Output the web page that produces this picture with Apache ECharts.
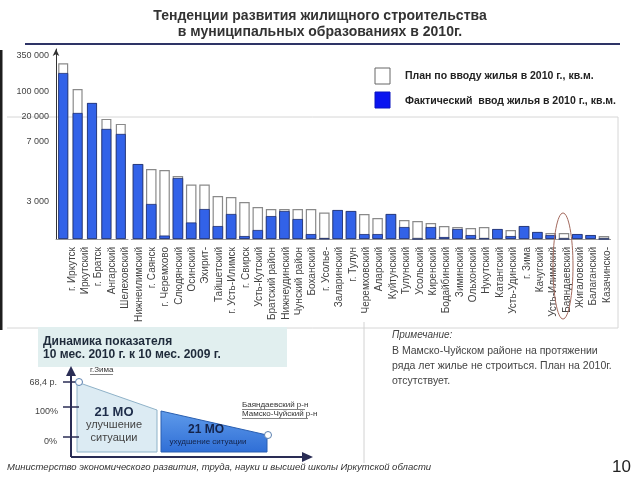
<!DOCTYPE html>
<html>
<head>
<meta charset="utf-8">
<script src="https://cdn.jsdelivr.net/npm/echarts@6/dist/echarts.min.js"></script>
<style>
html,body{margin:0;padding:0;background:#fff;}
#chart{width:640px;height:480px;}
</style>
</head>
<body>
<div id="chart"></div>
<script>
// ---- Data ----
const categories = ['г. Иркутск','Иркутский','г. Братск','Ангарский','Шелеховский','Нижнеилимский','г. Саянск','г. Черемхово','Слюдянский','Осинский','Эхирит-','Тайшетский','г. Усть-Илимск','г. Свирск','Усть-Кутский','Братский район','Нижнеудинский','Чунский район','Боханский','г. Усолье-','Заларинский','г. Тулун','Черемховский','Аларский','Куйтунский','Тулунский','Усольский','Киренский','Бодайбинский','Зиминский','Ольхонский','Нукутский','Катангский','Усть-Удинский','г. Зима','Качугский','Усть-Илимский','Баяндаевский','Жигаловский','Балаганский','Казачинско-'];
const planValues = [300000,121000,65000,19000,16400,5530,5200,5130,4730,4170,4170,3400,3330,3000,2590,2430,2430,2430,2430,2150,2350,2270,2030,1700,2030,1540,1460,1300,1050,970,890,970,810,730,1050,570,490,490,400,320,240];
const factValues = [232000,33000,65000,13800,11200,5530,2840,280,4600,1340,2430,1050,2030,240,730,1860,2270,1620,400,40,2350,2270,400,400,2030,970,0,970,160,810,320,40,810,240,1050,570,320,0,400,320,0];
const yTickValues = [3000,7000,20000,100000,350000];
const yTickLabels = ['3 000','7 000','20 000','100 000','350 000'];
const PLAN = 'План по вводу жилья в 2010 г., кв.м.';
const FACT = 'Фактический  ввод жилья в 2010 г., кв.м.';

// piecewise (broken) value axis of the original chart
const axisKnotValues = [0,3000,7000,20000,100000,350000];
const axisKnotUnits  = [0,37,97,122,147,183];
function scale(v){
  for(let i=1;i<axisKnotValues.length;i++){
    if(v<=axisKnotValues[i]){
      const a=axisKnotValues[i-1], b=axisKnotValues[i];
      return axisKnotUnits[i-1]+(v-a)/(b-a)*(axisKnotUnits[i]-axisKnotUnits[i-1]);
    }
  }
  return axisKnotUnits[axisKnotUnits.length-1];
}
const tickUnits = yTickValues.map(scale);

const FONT = '"Liberation Sans", Arial, sans-serif';
const chart = echarts.init(document.getElementById('chart'), null, {renderer:'canvas'});

const planStyle = {color:'#ffffff', borderColor:'#8a8a8a', borderWidth:1.2};
const factStyle = {color:'#3262e8', borderColor:'#1d2d70', borderWidth:0.8};

function txt(x,y,text,font,fill,align,extra){
  return Object.assign({type:'text', x:x, y:y, silent:true,
    style:{text:text, font:font, fill:fill||'#333', align:align||'left', verticalAlign:'middle'}}, extra||{});
}
function ln(x1,y1,x2,y2,stroke,w,z){
  return {type:'line', silent:true, z:z||0, shape:{x1:x1,y1:y1,x2:x2,y2:y2}, style:{stroke:stroke, lineWidth:w}};
}

const graphics = [
  // frame behind chart (top, right, bottom)
  {type:'polyline', silent:true, z:-1, shape:{points:[[7,117],[618,117],[618,328],[7,328]]}, style:{fill:'none', stroke:'#d6d6d6', lineWidth:1}},
  // dark left edge strip
  {type:'rect', silent:true, shape:{x:0,y:50,width:2.5,height:280}, style:{fill:'#1e1e1e'}},
  // title underline
  {type:'rect', silent:true, shape:{x:25,y:43,width:595,height:2}, style:{fill:'#2e3466'}},
  // legend
  {type:'rect', silent:true, shape:{x:375,y:68,width:15,height:16}, style:{fill:'#fff', stroke:'#666', lineWidth:1}},
  {type:'rect', silent:true, shape:{x:375,y:92,width:15,height:16}, style:{fill:'#0a14f0', stroke:'#0a14c0', lineWidth:1}},
  txt(405,76,PLAN,'bold 10.5px '+FONT,'#222'),
  txt(405,101,FACT,'bold 10.5px '+FONT,'#222'),
  // ellipse around Баяндаевский
  {type:'ellipse', silent:true, z:100, shape:{cx:563,cy:266,rx:10,ry:53}, style:{fill:'none', stroke:'#a46a5e', lineWidth:1}},
  // bottom-left inset box
  {type:'rect', silent:true, shape:{x:38,y:327,width:249,height:40}, style:{fill:'#e1efef'}},
  txt(43,342,'Динамика показателя','bold 12px '+FONT,'#1e2a3a'),
  txt(43,355,'10 мес. 2010 г. к 10 мес. 2009 г.','bold 12px '+FONT,'#1e2a3a'),
  // shapes
  {type:'polygon', silent:true, shape:{points:[[77,382],[157,410],[157,452],[77,452]]}, style:{fill:'#dcebf3', stroke:'#8fb2c8', lineWidth:1}},
  {type:'polygon', silent:true, shape:{points:[[161,411],[267,435],[267,452],[161,452]]},
    style:{fill:new echarts.graphic.LinearGradient(0,0,0,1,[{offset:0,color:'#5f9bea'},{offset:1,color:'#2f6ed6'}]), stroke:'#2a5fb0', lineWidth:1}},
  // mini axes
  ln(71,457,71,374,'#2a2d55',2),
  {type:'polygon', silent:true, shape:{points:[[66,376],[71,366],[76,376]]}, style:{fill:'#2a2d55'}},
  ln(71,457,304,457,'#2a2d55',2),
  {type:'polygon', silent:true, shape:{points:[[302,452],[313,457],[302,462]]}, style:{fill:'#2a2d55'}},
  ln(63,382,79,382,'#2a2d55',1.5),
  ln(63,407,79,407,'#2a2d55',1.5),
  ln(63,437,79,437,'#2a2d55',1.5),
  txt(57,383,'68,4 р.','9px '+FONT,'#444','right'),
  txt(58,412,'100%','9px '+FONT,'#444','right'),
  txt(57,442,'0%','9px '+FONT,'#444','right'),
  {type:'circle', silent:true, z:5, shape:{cx:79,cy:382,r:3.5}, style:{fill:'#fff', stroke:'#5a7fb0', lineWidth:1}},
  {type:'circle', silent:true, z:5, shape:{cx:268,cy:435,r:3.5}, style:{fill:'#fff', stroke:'#5a7fb0', lineWidth:1}},
  txt(114,412,'21 МО','bold 13px '+FONT,'#1e2d4a','center'),
  txt(114,425,'улучшение','11px '+FONT,'#444','center'),
  txt(114,438,'ситуации','11px '+FONT,'#444','center'),
  txt(206,430,'21 МО','bold 12px '+FONT,'#14234a','center'),
  txt(208,442,'ухудшение ситуации','8px '+FONT,'#14234a','center'),
  txt(90,370,'г.Зима','8px '+FONT,'#333'),
  ln(90,374.5,113,374.5,'#333',0.6),
  txt(242,405,'Баяндаевский р-н','8px '+FONT,'#333'),
  ln(242,409.5,305,409.5,'#333',0.6),
  txt(242,414,'Мамско-Чуйский р-н','8px '+FONT,'#333'),
  ln(242,418.5,308,418.5,'#333',0.6),
  // separator
  ln(364,322,364,463,'#d2d2d2',1),
  // note
  txt(392,335,'Примечание:','italic 10px '+FONT,'#444'),
  txt(392,351,'В Мамско-Чуйском районе на протяжении','10.5px '+FONT,'#444'),
  txt(392,366,'ряда лет жилье не строиться. План на 2010г.','10.5px '+FONT,'#444'),
  txt(392,381,'отсутствует.','10.5px '+FONT,'#444'),
  // footer
  txt(7,467,'Министерство экономического развития, труда, науки и высшей школы Иркутской области','italic 9.5px '+FONT,'#333'),
  txt(631,467,'10','17px '+FONT,'#222','right')
];

const gridTop = 49, gridH = 190, yMax = 190;
const option = {
  animation:false,
  backgroundColor:'#fff',
  textStyle:{fontFamily:FONT},
  title:{
    text:'Тенденции развития жилищного строительства\nв муниципальных образованиях в 2010г.',
    left:'center', top:8, padding:0,
    textStyle:{fontSize:14, fontWeight:'bold', color:'#333', lineHeight:16, fontFamily:FONT}
  },
  grid:[
    {left:56, width:72, top:gridTop, height:gridH},
    {left:131.3, width:479.3, top:gridTop, height:gridH},
    {left:65.3, width:548.4, top:gridTop, height:gridH}
  ],
  xAxis:[
    {type:'category', gridIndex:0, data:categories.slice(0,5),
     axisLine:{lineStyle:{color:'#999'}}, axisTick:{alignWithLabel:true, length:3, lineStyle:{color:'#999'}}, axisLabel:{show:false}},
    {type:'category', gridIndex:1, data:categories.slice(5),
     axisLine:{lineStyle:{color:'#999'}}, axisTick:{length:3, lineStyle:{color:'#999'}}, axisLabel:{show:false}},
    {type:'category', gridIndex:2, data:categories,
     axisLine:{show:false}, axisTick:{show:false},
     axisLabel:{rotate:90, interval:0, fontSize:10, color:'#444', margin:8, fontFamily:FONT}}
  ],
  yAxis:[
    {type:'value', gridIndex:0, min:0, max:yMax, splitLine:{show:false}, axisTick:{show:false},
     axisLine:{show:true, symbol:['none','arrow'], symbolSize:[5,7], lineStyle:{color:'#333', width:1}},
     axisLabel:{customValues:tickUnits, fontSize:9, color:'#444', margin:7, fontFamily:FONT,
       formatter:function(v){ let best=0; for(let i=1;i<tickUnits.length;i++){ if(Math.abs(tickUnits[i]-v)<Math.abs(tickUnits[best]-v)) best=i; } return yTickLabels[best]; }}},
    {type:'value', gridIndex:1, min:0, max:yMax, show:false},
    {type:'value', gridIndex:2, min:0, max:yMax, show:false}
  ],
  series:[
    {name:PLAN, type:'bar', xAxisIndex:0, yAxisIndex:0, barWidth:10, data:planValues.slice(0,5).map(scale), itemStyle:planStyle, z:2},
    {name:FACT, type:'bar', xAxisIndex:0, yAxisIndex:0, barWidth:10, barGap:'-100%', data:factValues.slice(0,5).map(scale), itemStyle:factStyle, z:3},
    {name:PLAN, type:'bar', xAxisIndex:1, yAxisIndex:1, barWidth:10.5, data:planValues.slice(5).map(scale), itemStyle:planStyle, z:2},
    {name:FACT, type:'bar', xAxisIndex:1, yAxisIndex:1, barWidth:10.5, barGap:'-100%', data:factValues.slice(5).map(scale), itemStyle:factStyle, z:3}
  ],
  graphic:graphics
};
chart.setOption(option);
</script>
</body>
</html>
